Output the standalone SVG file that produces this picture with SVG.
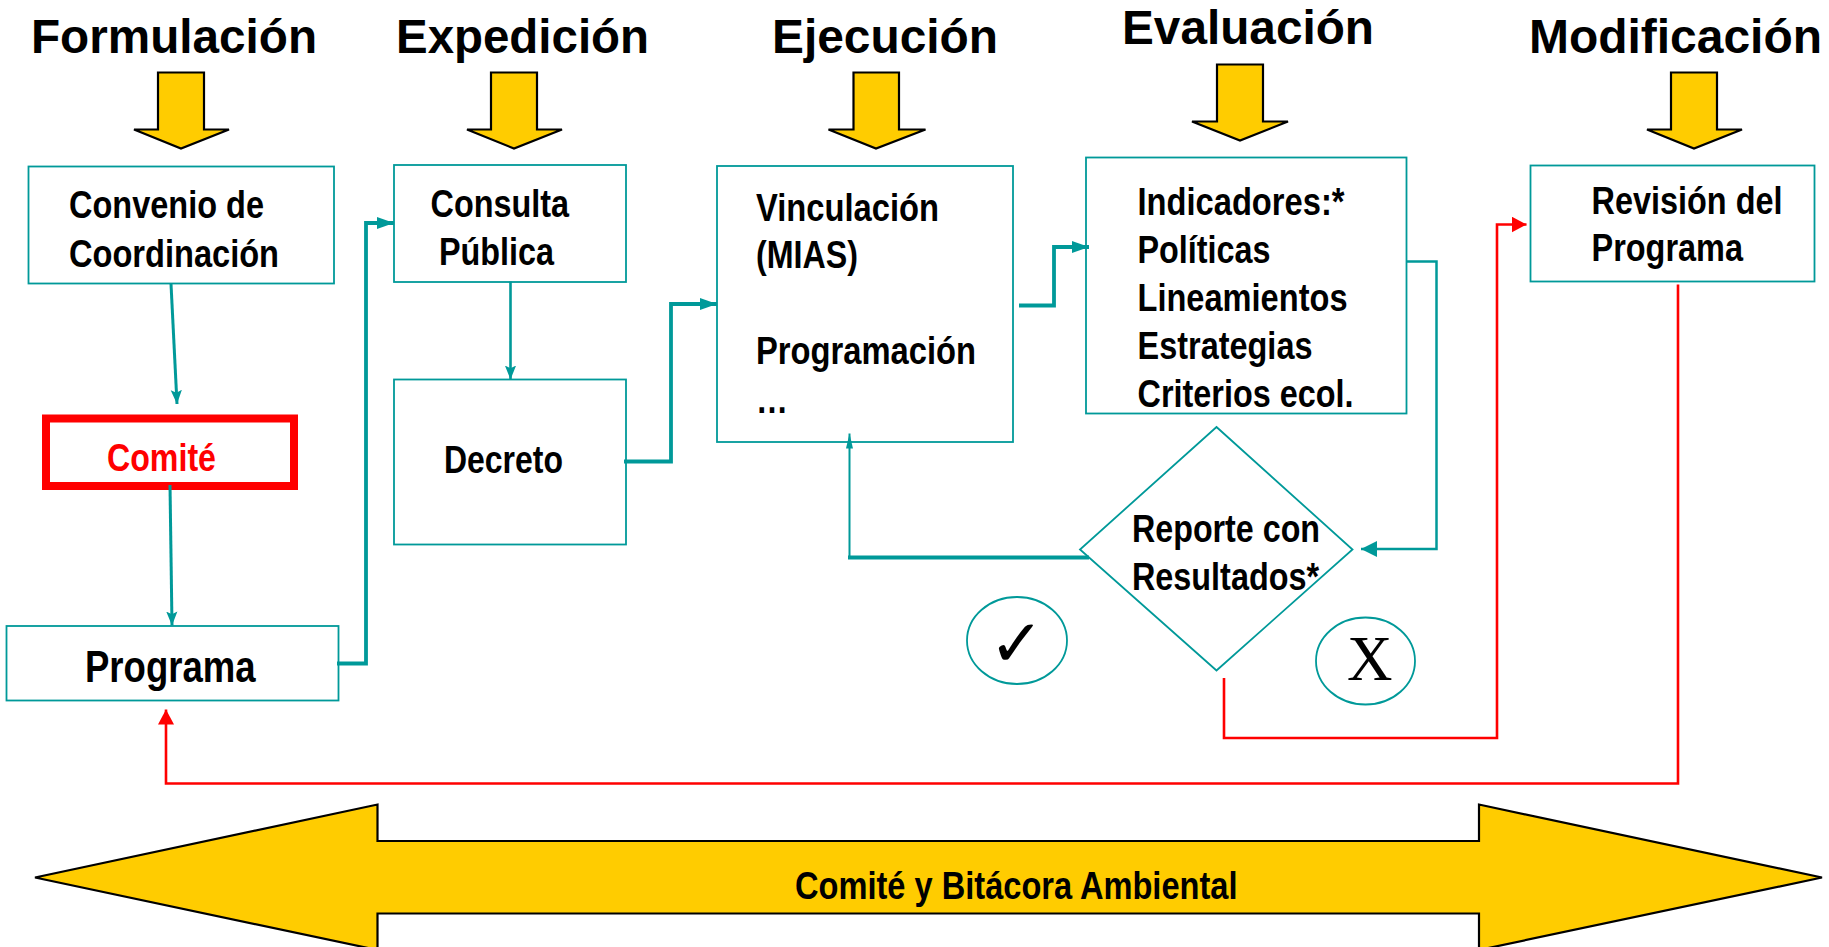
<svg xmlns="http://www.w3.org/2000/svg" width="1829" height="947" viewBox="0 0 1829 947">
<style>
text{font-family:"Liberation Sans",Arial,sans-serif;font-weight:700;fill:#000}
.h{font-size:48px}
.t{font-size:39px}
.box{fill:#fff;stroke:#009999;stroke-width:1.8}
.ya{fill:#FFCC00;stroke:#000;stroke-width:2.200}
.c{fill:none;stroke:#009999;stroke-linejoin:miter}
.r{fill:none;stroke:#FF0000;stroke-width:2.600}
</style>
<defs>
<marker id="tl" markerUnits="userSpaceOnUse" markerWidth="14" markerHeight="16" refX="15" refY="6" orient="auto" viewBox="0 0 15 12"><path d="M0 0L15 6L0 12L3 6Z" fill="#009999"/></marker>
<marker id="ts" markerUnits="userSpaceOnUse" markerWidth="17" markerHeight="12" refX="17" refY="6" orient="auto" viewBox="0 0 17 12"><path d="M0 0L17 6L0 12Z" fill="#009999"/></marker>
<marker id="tf" markerUnits="userSpaceOnUse" markerWidth="16" markerHeight="16" refX="16" refY="8" orient="auto" viewBox="0 0 16 16"><path d="M0 0L16 8L0 16Z" fill="#009999"/></marker>
<marker id="tn" markerUnits="userSpaceOnUse" markerWidth="15" markerHeight="7" refX="15" refY="3.500" orient="auto" viewBox="0 0 15 7"><path d="M0 0L15 3.500L0 7Z" fill="#009999"/></marker>
<marker id="rf" markerUnits="userSpaceOnUse" markerWidth="15" markerHeight="16" refX="15" refY="8" orient="auto" viewBox="0 0 15 16"><path d="M0 0L15 8L0 16Z" fill="#FF0000"/></marker>
</defs>
<g id="titles">
<text class="h" x="31" y="52.500" textLength="286" lengthAdjust="spacingAndGlyphs">Formulación</text>
<text class="h" x="396" y="52.500" textLength="253" lengthAdjust="spacingAndGlyphs">Expedición</text>
<text class="h" x="772" y="52.500" textLength="226" lengthAdjust="spacingAndGlyphs">Ejecución</text>
<text class="h" x="1122" y="43.500" textLength="252" lengthAdjust="spacingAndGlyphs">Evaluación</text>
<text class="h" x="1529" y="52.500" textLength="293" lengthAdjust="spacingAndGlyphs">Modificación</text>
</g>
<g id="phase-arrows">
<path class="ya" d="M158 72.500H204V129.500H229L181 148.500L134 129.500H158Z"/>
<path class="ya" d="M491 72.500H537V129.500H562L514 148.500L467 129.500H491Z"/>
<path class="ya" d="M853.500 72.500H899V129.500H925.500L876 148.500L828.500 129.500H853.500Z"/>
<path class="ya" d="M1217 64.500H1263V121.500H1288L1240 140.500L1192 121.500H1217Z"/>
<path class="ya" d="M1671 72.500H1717V129.500H1742L1694 148.500L1647 129.500H1671Z"/>
</g>
<g id="n-convenio"><rect class="box" x="28.500" y="166.500" width="305.500" height="117"/>
<text class="t" x="69" y="218" textLength="195" lengthAdjust="spacingAndGlyphs">Convenio de</text>
<text class="t" x="69" y="266.500" textLength="210" lengthAdjust="spacingAndGlyphs">Coordinación</text></g>
<g id="n-consulta"><rect class="box" x="394" y="165" width="232" height="117"/>
<text class="t" x="430.500" y="216.500" textLength="138.500" lengthAdjust="spacingAndGlyphs">Consulta</text>
<text class="t" x="439" y="264.500" textLength="115" lengthAdjust="spacingAndGlyphs">Pública</text></g>
<g id="n-decreto"><rect class="box" x="394" y="379.500" width="232" height="165"/>
<text class="t" x="444" y="472.500" textLength="119" lengthAdjust="spacingAndGlyphs">Decreto</text></g>
<g id="n-vinculacion"><rect class="box" x="717" y="166" width="296" height="276"/>
<text class="t" x="756" y="220.500" textLength="183" lengthAdjust="spacingAndGlyphs">Vinculación</text>
<text class="t" x="756" y="267.500" textLength="102" lengthAdjust="spacingAndGlyphs">(MIAS)</text>
<text class="t" x="756" y="364" textLength="220" lengthAdjust="spacingAndGlyphs">Programación</text>
<text class="t" x="756" y="412.500" textLength="32" lengthAdjust="spacingAndGlyphs">…</text></g>
<g id="n-indicadores"><rect class="box" x="1086" y="157.500" width="320.500" height="256"/>
<text class="t" x="1137.500" y="215" textLength="207" lengthAdjust="spacingAndGlyphs">Indicadores:*</text>
<text class="t" x="1137.500" y="263" textLength="133" lengthAdjust="spacingAndGlyphs">Políticas</text>
<text class="t" x="1137.500" y="311" textLength="210" lengthAdjust="spacingAndGlyphs">Lineamientos</text>
<text class="t" x="1137.500" y="359" textLength="175" lengthAdjust="spacingAndGlyphs">Estrategias</text>
<text class="t" x="1137.500" y="407" textLength="216" lengthAdjust="spacingAndGlyphs">Criterios ecol.</text></g>
<g id="n-revision"><rect class="box" x="1530.500" y="165.500" width="284" height="116"/>
<text class="t" x="1591.500" y="213.500" textLength="191" lengthAdjust="spacingAndGlyphs">Revisión del</text>
<text class="t" x="1591.500" y="261" textLength="151.500" lengthAdjust="spacingAndGlyphs">Programa</text></g>
<g id="n-comite"><rect x="46" y="418.500" width="248" height="67.500" fill="#fff" stroke="#FF0000" stroke-width="8"/>
<text class="t" x="107" y="471" style="fill:#FF0000" textLength="109" lengthAdjust="spacingAndGlyphs">Comité</text></g>
<g id="n-programa"><rect class="box" x="6.500" y="626" width="332" height="74.500"/>
<text x="85" y="681.500" font-size="44" textLength="170.500" lengthAdjust="spacingAndGlyphs">Programa</text></g>
<g id="n-reporte"><path class="box" d="M1216.500 427L1352.500 549.500L1216.500 670.500L1080 549.500Z"/>
<text class="t" x="1132" y="542" textLength="188" lengthAdjust="spacingAndGlyphs">Reporte con</text>
<text class="t" x="1132" y="589.500" textLength="187" lengthAdjust="spacingAndGlyphs">Resultados*</text></g>
<g id="n-si"><ellipse class="box" cx="1017" cy="640.500" rx="50" ry="43.500"/>
<text x="989" y="666" font-size="66" style="font-family:'DejaVu Sans',sans-serif;font-weight:400">✓</text></g>
<g id="n-no"><ellipse class="box" cx="1365.500" cy="661" rx="49.500" ry="43.500"/>
<text x="1347" y="679.500" font-size="63" style="font-family:'Liberation Serif',serif;font-weight:400">X</text></g>
<g id="connectors">
<path class="c" stroke-width="3" marker-end="url(#tl)" d="M171 284L177 404"/>
<path class="c" stroke-width="3" marker-end="url(#tl)" d="M170 485L172 625.500"/>
<path class="c" stroke-width="2.600" marker-end="url(#tl)" d="M510.500 281.500V379.500"/>
<path class="c" stroke-width="3.800" marker-end="url(#ts)" d="M337 663.500H366V223H394"/>
<path class="c" stroke-width="3.800" marker-end="url(#ts)" d="M624 461.500H671V304H717"/>
<path class="c" stroke-width="3.800" marker-end="url(#ts)" d="M1019 305.500H1054V247H1089"/>
<path class="c" stroke-width="2.500" marker-end="url(#tf)" d="M1407 261.500H1436.500V549H1361"/>
<path class="c" stroke-width="3.800" d="M1089 557.500H848"/>
<path class="c" stroke-width="2" marker-end="url(#tn)" d="M849.500 558V433.500"/>
<path class="r" marker-end="url(#rf)" d="M1224 678V738H1497V224.500H1526.500"/>
<path class="r" marker-end="url(#rf)" d="M1678 284.500V783.500H166V709.500"/>
</g>
<g id="band"><path class="ya" d="M35 877.500L377.500 804.500V841H1479V804.500L1822 877.500L1479 950V913.500H377.500V950Z"/>
<text class="t" x="795" y="899" textLength="442.500" lengthAdjust="spacingAndGlyphs">Comité y Bitácora Ambiental</text></g>
</svg>
